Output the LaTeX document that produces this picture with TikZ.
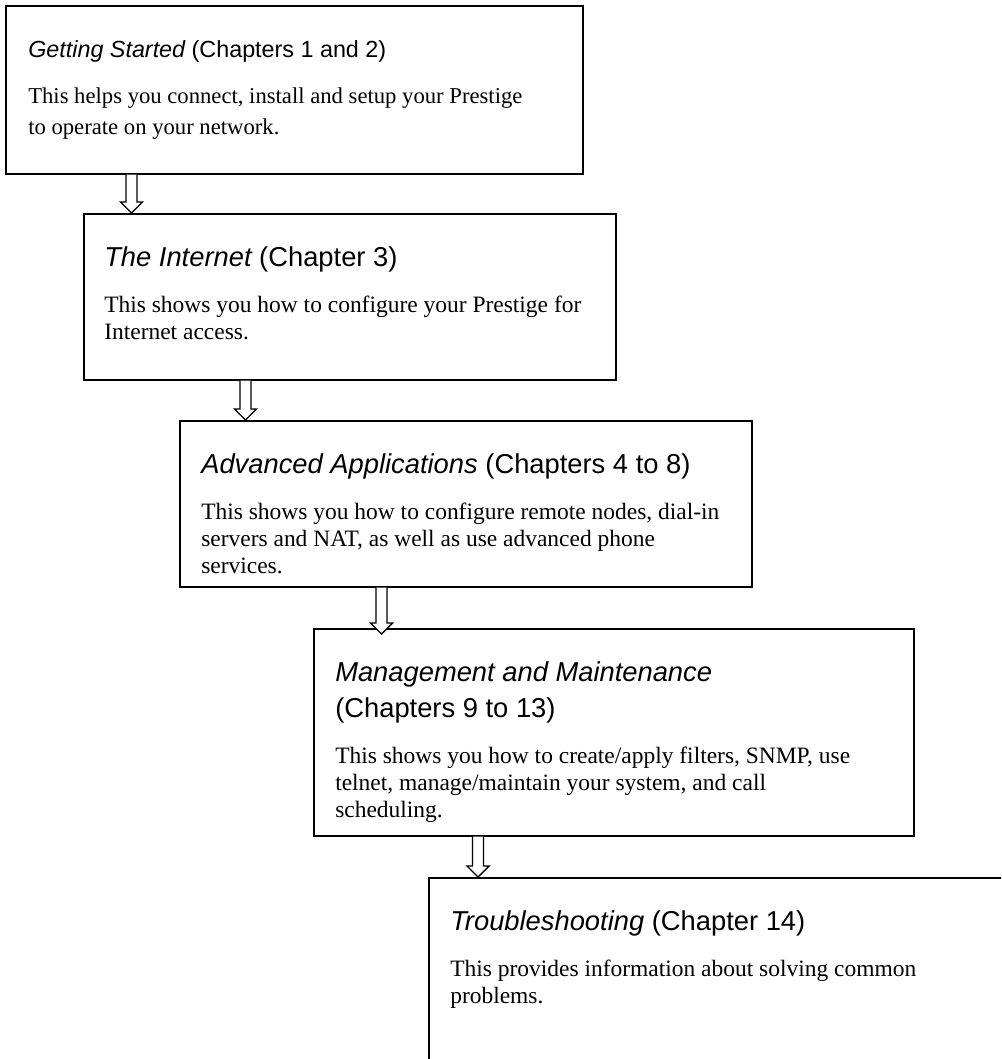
\documentclass[tikz,border=0pt]{standalone}
\usepackage{fontspec}
\setmainfont{Liberation Serif}
\newfontfamily\headfont{Liberation Sans}
\usetikzlibrary{calc}
\begin{document}
\begin{tikzpicture}[x=0.75pt,y=-0.75pt,
  box/.style={draw,line width=1.2pt,rectangle,inner sep=0,anchor=north west},
  head/.style={anchor=base west,inner sep=0,font=\headfont\fontsize{20.5}{24}\selectfont},
  body/.style={anchor=base west,inner sep=0,font=\fontsize{17.6}{20}\selectfont},
  flow/.style={draw,line width=1.05pt,fill=white,line join=miter}
]
\useasboundingbox (0,0) rectangle (1001,1059);
\clip (0,0) rectangle (1001,1059);

% chapter boxes
\node[box,minimum width=577*0.75pt,minimum height=168*0.75pt] (b1) at (5,5) {};
\node[box,minimum width=532*0.75pt,minimum height=166*0.75pt] (b2) at (83,213) {};
\node[box,minimum width=572*0.75pt,minimum height=166*0.75pt] (b3) at (179,420) {};
\node[box,minimum width=600*0.75pt,minimum height=207*0.75pt] (b4) at (313,628) {};
\node[box,minimum width=620*0.75pt,minimum height=240*0.75pt] (b5) at (428,877) {};

% titles and descriptions
\node[head,font=\headfont\fontsize{17.5}{21}\selectfont] (h1) at (28,58) {\itshape Getting Started\upshape\ (Chapters 1 and 2)};
\node[body,font=\fontsize{17}{20}\selectfont] (d1a) at (28,104) {This helps you connect, install and setup your Prestige};
\node[body,font=\fontsize{17}{20}\selectfont] (d1b) at (28,135) {to operate on your network.};

\node[head] (h2) at (104,266) {\itshape The Internet\upshape\ (Chapter 3)};
\node[body] (d2a) at (104,312) {This shows you how to configure your Prestige for};
\node[body] (d2b) at (104,339) {Internet access.};

\node[head] (h3) at (201,473) {\itshape Advanced Applications\upshape\ (Chapters 4 to 8)};
\node[body] (d3a) at (201,519) {This shows you how to configure remote nodes, dial-in};
\node[body] (d3b) at (201,546) {servers and NAT, as well as use advanced phone};
\node[body] (d3c) at (201,573) {services.};

\node[head] (h4a) at (335,681) {\itshape Management and Maintenance};
\node[head] (h4b) at (335,717) {(Chapters 9 to 13)};
\node[body] (d4a) at (335,763) {This shows you how to create/apply filters, SNMP, use};
\node[body] (d4b) at (335,790) {telnet, manage/maintain your system, and call};
\node[body] (d4c) at (335,817) {scheduling.};

\node[head] (h5) at (450,930) {\itshape Troubleshooting\upshape\ (Chapter 14)};
\node[body] (d5a) at (450,976) {This provides information about solving common};
\node[body] (d5b) at (450,1003) {problems.};

% hollow block arrows from one box down to the next
% #1 upper box, #2 lower box, #3 offset from the upper box's left side,
% #4 how far the tip reaches past the lower box's top edge
\newcommand\blockflow[4]{%
  \path (#1.south west) ++(#3,0) coordinate (#1top);
  \path (#1top |- #2.north) ++(0,#4) coordinate (#1tip);
  \draw[flow] ($(#1top)+(-5.5,0)$) -- ($(#1tip)+(-5.5,-11)$) -- ($(#1tip)+(-11,-11)$)
    -- (#1tip) -- ($(#1tip)+(11,-11)$) -- ($(#1tip)+(5.5,-11)$) -- ($(#1top)+(5.5,0)$);
}
\blockflow{b1}{b2}{126.5}{0}
\blockflow{b2}{b3}{162.5}{0}
\blockflow{b3}{b4}{202.5}{6}
\blockflow{b4}{b5}{165}{0}
\end{tikzpicture}
\end{document}
